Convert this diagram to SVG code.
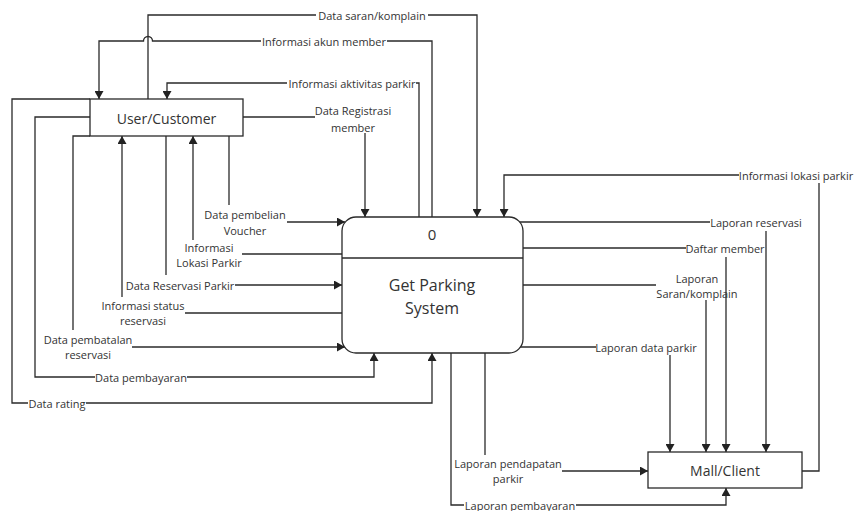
<svg xmlns="http://www.w3.org/2000/svg" width="856" height="511" viewBox="0 0 856 511">
<defs>
<marker id="arr" markerUnits="userSpaceOnUse" markerWidth="9" markerHeight="9" refX="8" refY="4.5" orient="auto">
<path d="M0,0 L8,4.5 L0,9 z" fill="#222"/>
</marker>
<style>
.ln{fill:none;stroke:#2a2a2a;stroke-width:1.3}
.ar{marker-end:url(#arr)}
.lb{font-family:"Open Sans","Noto Sans",sans-serif;font-size:11px;fill:#333;text-anchor:middle;dominant-baseline:central}
.nd{fill:#fff;stroke:#2a2a2a;stroke-width:1.3}
.nt{font-family:"Open Sans","Noto Sans",sans-serif;fill:#333;text-anchor:middle;dominant-baseline:central}
</style>
</defs>
<rect width="856" height="511" fill="#fff"/>
<g id="connectors">
<!-- Data saran/komplain -->
<path class="ln" d="M148,99 V15 H316"/>
<path class="ln ar" d="M428,15 H477 V217"/>
<text class="lb" x="372" y="15">Data saran/komplain</text>
<!-- Informasi akun member -->
<path class="ln" d="M432,217 V41 H387"/>
<path class="ln ar" d="M261,41 H152.5 A4.5,4.5 0 0 0 143.5,41 H99 V99"/>
<text class="lb" x="324" y="41">Informasi akun member</text>
<!-- Informasi aktivitas parkir -->
<path class="ln" d="M419,217 V83 H416"/>
<path class="ln ar" d="M287,83 H167 V99"/>
<text class="lb" x="352" y="83">Informasi aktivitas parkir</text>
<!-- Data Registrasi member -->
<path class="ln" d="M243,117 H315"/>
<path class="ln ar" d="M365,133 V217"/>
<text class="lb" x="353" y="110">Data Registrasi</text>
<text class="lb" x="353" y="127">member</text>
<!-- Data pembelian Voucher -->
<path class="ln" d="M229,136 V205"/>
<path class="ln ar" d="M287,222 H345"/>
<text class="lb" x="245" y="214">Data pembelian</text>
<text class="lb" x="245" y="230">Voucher</text>
<!-- Informasi Lokasi Parkir -->
<path class="ln" d="M342,254 H242"/>
<path class="ln ar" d="M193,240 V136"/>
<text class="lb" x="209" y="247">Informasi</text>
<text class="lb" x="209" y="262">Lokasi Parkir</text>
<!-- Data Reservasi Parkir -->
<path class="ln" d="M166,136 V275"/>
<path class="ln ar" d="M235,285 H342"/>
<text class="lb" x="180" y="285">Data Reservasi Parkir</text>
<!-- Informasi status reservasi -->
<path class="ln" d="M342,313 H185"/>
<path class="ln ar" d="M122,297 V136"/>
<text class="lb" x="143" y="305">Informasi status</text>
<text class="lb" x="143" y="320">reservasi</text>
<!-- Data pembatalan reservasi -->
<path class="ln" d="M90,136 H73 V330"/>
<path class="ln ar" d="M132,347 H345"/>
<text class="lb" x="88" y="339">Data pembatalan</text>
<text class="lb" x="88" y="354">reservasi</text>
<!-- Data pembayaran -->
<path class="ln" d="M90,117 H35 V377 H95"/>
<path class="ln ar" d="M187,377 H374 V353"/>
<text class="lb" x="141" y="377">Data pembayaran</text>
<!-- Data rating -->
<path class="ln" d="M90,99 H12 V403 H28"/>
<path class="ln ar" d="M86,403 H432 V353"/>
<text class="lb" x="57" y="403">Data rating</text>
<!-- Informasi lokasi parkir -->
<path class="ln" d="M802,471 H819 V183"/>
<path class="ln ar" d="M739,175 H504 V217"/>
<text class="lb" x="796" y="175">Informasi lokasi parkir</text>
<!-- Laporan reservasi -->
<path class="ln" d="M519,222 H710"/>
<path class="ln ar" d="M766,231 V452"/>
<text class="lb" x="756" y="222">Laporan reservasi</text>
<!-- Daftar member -->
<path class="ln" d="M523,248 H686"/>
<path class="ln ar" d="M726,257 V452"/>
<text class="lb" x="725" y="248">Daftar member</text>
<!-- Laporan Saran/komplain -->
<path class="ln" d="M523,285 H656"/>
<path class="ln ar" d="M706,300 V452"/>
<text class="lb" x="697" y="278">Laporan</text>
<text class="lb" x="697" y="293">Saran/komplain</text>
<!-- Laporan data parkir -->
<path class="ln" d="M515,347 H596"/>
<path class="ln ar" d="M670,355 V452"/>
<text class="lb" x="646" y="347">Laporan data parkir</text>
<!-- Laporan pendapatan parkir -->
<path class="ln" d="M485,353 V455"/>
<path class="ln ar" d="M562,471 H648"/>
<text class="lb" x="508" y="463">Laporan pendapatan</text>
<text class="lb" x="508" y="478">parkir</text>
<!-- Laporan pembayaran -->
<path class="ln" d="M451,353 V505 H464"/>
<path class="ln ar" d="M576,505 H726 V488"/>
<text class="lb" x="520" y="505">Laporan pembayaran</text>
</g>
<g id="user">
<rect class="nd" x="90" y="99" width="153" height="37"/>
<text class="nt" x="166.5" y="118" font-size="14">User/Customer</text>
</g>
<g id="process">
<rect class="nd" x="342" y="217" width="181" height="136" rx="14" ry="14"/>
<line class="ln" x1="342" y1="258" x2="523" y2="258"/>
<text class="nt" x="432" y="234" font-size="15">0</text>
<text class="nt" x="432" y="285" font-size="16">Get Parking</text>
<text class="nt" x="432" y="308" font-size="16">System</text>
</g>
<g id="mall">
<rect class="nd" x="648" y="452" width="154" height="36"/>
<text class="nt" x="725" y="470" font-size="14">Mall/Client</text>
</g>
</svg>
